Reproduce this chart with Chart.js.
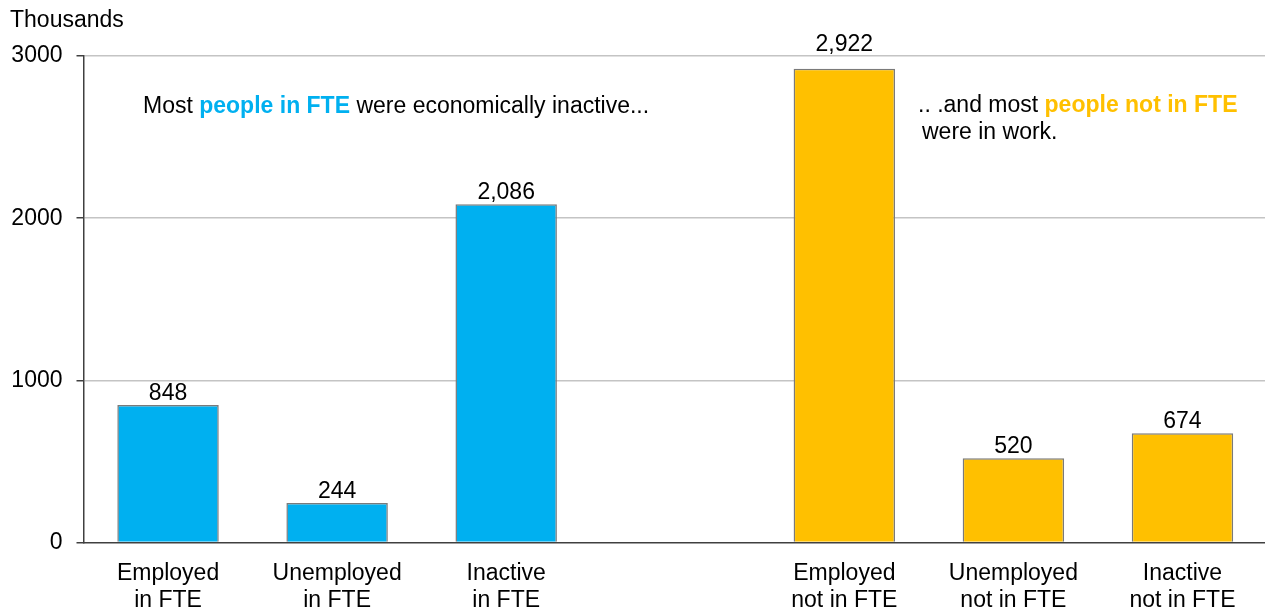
<!DOCTYPE html>
<html>
<head>
<meta charset="utf-8">
<script src="https://cdn.jsdelivr.net/npm/chart.js@4/dist/chart.umd.min.js"></script>
<style>
  html, body { margin: 0; padding: 0; background: #fff; overflow: hidden; }
  #wrap { position: relative; width: 1268px; height: 609px; }
</style>
</head>
<body>
<div id="wrap"><canvas id="chart"></canvas></div>
<script>
// Population in / not in full-time education, by economic activity (thousands)
const categories = [
  ['Employed', 'in FTE'],
  ['Unemployed', 'in FTE'],
  ['Inactive', 'in FTE'],
  '',
  ['Employed', 'not in FTE'],
  ['Unemployed', 'not in FTE'],
  ['Inactive', 'not in FTE']
];
const values = [848, 244, 2086, null, 2922, 520, 674];
const groups = ['fte', 'fte', 'fte', null, 'notFte', 'notFte', 'notFte'];
const yTicks = [0, 1000, 2000, 3000];
const unitLabel = 'Thousands';

const FONT = "'Liberation Sans', Arial, sans-serif";
const FS = 23;
const BLUE = '#00B0F0';
const ORANGE = '#FFC000';
const groupColor = { fte: BLUE, notFte: ORANGE };

// Callout text, split into plain and highlighted runs
const callouts = [
  { x: 143, y: 113, runs: [
    { t: 'Most ', c: '#000', b: false },
    { t: 'people in FTE', c: BLUE, b: true },
    { t: ' were economically inactive...', c: '#000', b: false }
  ]},
  { x: 918, y: 112, runs: [
    { t: '.. .and most ', c: '#000', b: false },
    { t: 'people not in FTE', c: ORANGE, b: true }
  ]},
  { x: 922, y: 139, runs: [
    { t: 'were in work.', c: '#000', b: false }
  ]}
];

// value-label gap above bar tops; the tallest bar's label sits higher, clear of the top gridline
const labelGap = 5;
const labelExtraLift = { 4: 13 };

const overlayPlugin = {
  id: 'overlay',
  afterDatasetsDraw(chart) {
    const ctx = chart.ctx;
    ctx.save();
    ctx.font = FS + 'px ' + FONT;
    ctx.fillStyle = '#000';
    ctx.textAlign = 'center';
    ctx.textBaseline = 'alphabetic';
    const meta = chart.getDatasetMeta(0);
    meta.data.forEach((bar, i) => {
      const v = values[i];
      if (v == null) return;
      const lift = labelGap + (labelExtraLift[i] || 0);
      ctx.fillText(v.toLocaleString('en-US'), bar.x, bar.y - lift);
    });
    // unit label
    ctx.textAlign = 'left';
    ctx.fillText(unitLabel, 10, 27);
    // callouts
    callouts.forEach(line => {
      let x = line.x;
      line.runs.forEach(r => {
        ctx.font = (r.b ? 'bold ' : '') + FS + 'px ' + FONT;
        ctx.fillStyle = r.c;
        ctx.fillText(r.t, x, line.y);
        x += ctx.measureText(r.t).width;
      });
    });
    ctx.restore();
  }
};

new Chart(document.getElementById('chart'), {
  type: 'bar',
  data: {
    labels: categories,
    datasets: [{
      data: values,
      backgroundColor: groups.map(g => g ? groupColor[g] : 'transparent'),
      borderColor: '#7A7A7A',
      borderWidth: 1.5,
      borderSkipped: 'bottom',
      barPercentage: 0.6,
      categoryPercentage: 1.0
    }]
  },
  options: {
    responsive: true,
    maintainAspectRatio: false,
    animation: false,
    events: [],
    layout: { padding: { top: 56, right: 1, left: 0, bottom: 0 } },
    plugins: {
      legend: { display: false },
      tooltip: { enabled: false },
      title: { display: false }
    },
    scales: {
      x: {
        grid: { display: false },
        border: { display: true, color: '#404040', width: 1.5 },
        ticks: {
          color: '#000',
          font: { family: FONT, size: FS, lineHeight: 1.16 },
          padding: 10,
          maxRotation: 0,
          autoSkip: false
        },
        afterFit(scale) { scale.height = 66.5; }
      },
      y: {
        min: 0,
        max: 3000,
        afterBuildTicks(scale) { scale.ticks = yTicks.map(v => ({ value: v })); },
        grid: {
          color: ctx => (ctx.tick && ctx.tick.value === 0) ? 'rgba(0,0,0,0)' : '#C4C4C4',
          lineWidth: 1.5,
          drawTicks: true,
          tickLength: 7,
          tickColor: '#404040',
          tickWidth: 1.5
        },
        border: { display: true, color: '#404040', width: 1.5 },
        ticks: {
          color: '#000',
          font: { family: FONT, size: FS },
          padding: 14,
          callback: v => String(v)
        },
        afterFit(scale) { scale.width = 83.5; }
      }
    }
  },
  plugins: [overlayPlugin]
});
</script>
</body>
</html>
